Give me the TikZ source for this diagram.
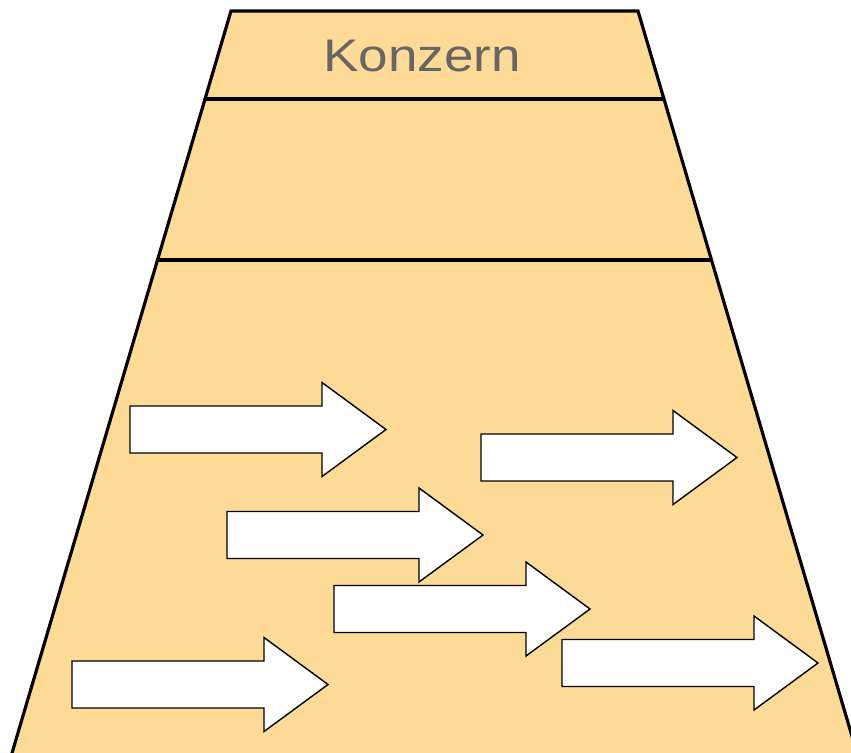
\documentclass[tikz,border=0pt]{standalone}
\usepackage{fontspec}
\setmainfont{Liberation Sans}
\usetikzlibrary{calc}
\definecolor{layerfill}{RGB}{253,218,150}
\definecolor{labelgray}{RGB}{102,102,102}

\begin{document}
\begin{tikzpicture}[x=0.02cm,y=-0.02cm,
  layer/.style={fill=layerfill,draw=black,line width=1.8pt,line join=miter},
  split/.style={draw=black,line width=1.8pt},
  flow/.style={fill=white,draw=black,line width=0.8pt,line join=miter}]
    \useasboundingbox (0,0) rectangle (851,753);
    \clip (0,0) rectangle (851,753);

    \coordinate (tl) at (231,11);
    \coordinate (tr) at (638,11);
    \coordinate (br) at (862,770);
    \coordinate (bl) at (7,770);

    \draw[layer] (tl) -- (tr) -- (br) -- (bl) -- cycle;
    \draw[split] ($(tl)!88/759!(bl)$) -- ($(tr)!88/759!(br)$);
    \draw[split] ($(tl)!249/759!(bl)$) -- ($(tr)!249/759!(br)$);

    \node[text=labelgray,font=\fontsize{26}{30}\selectfont] (konzern) at (422,56) {\scalebox{1.16}[1]{Konzern}};

    % flow arrows: left end, centre line
    \foreach \x/\y in {130/429.5, 481/457.5, 227/535, 334/609, 562/663, 72/684.5}
      \draw[flow] (\x,\y-23.5) -- ++(192,0) -- ++(0,-23.5) -- (\x+256,\y)
        -- (\x+192,\y+47) -- ++(0,-23.5) -- (\x,\y+23.5) -- cycle;

\end{tikzpicture}
\end{document}
